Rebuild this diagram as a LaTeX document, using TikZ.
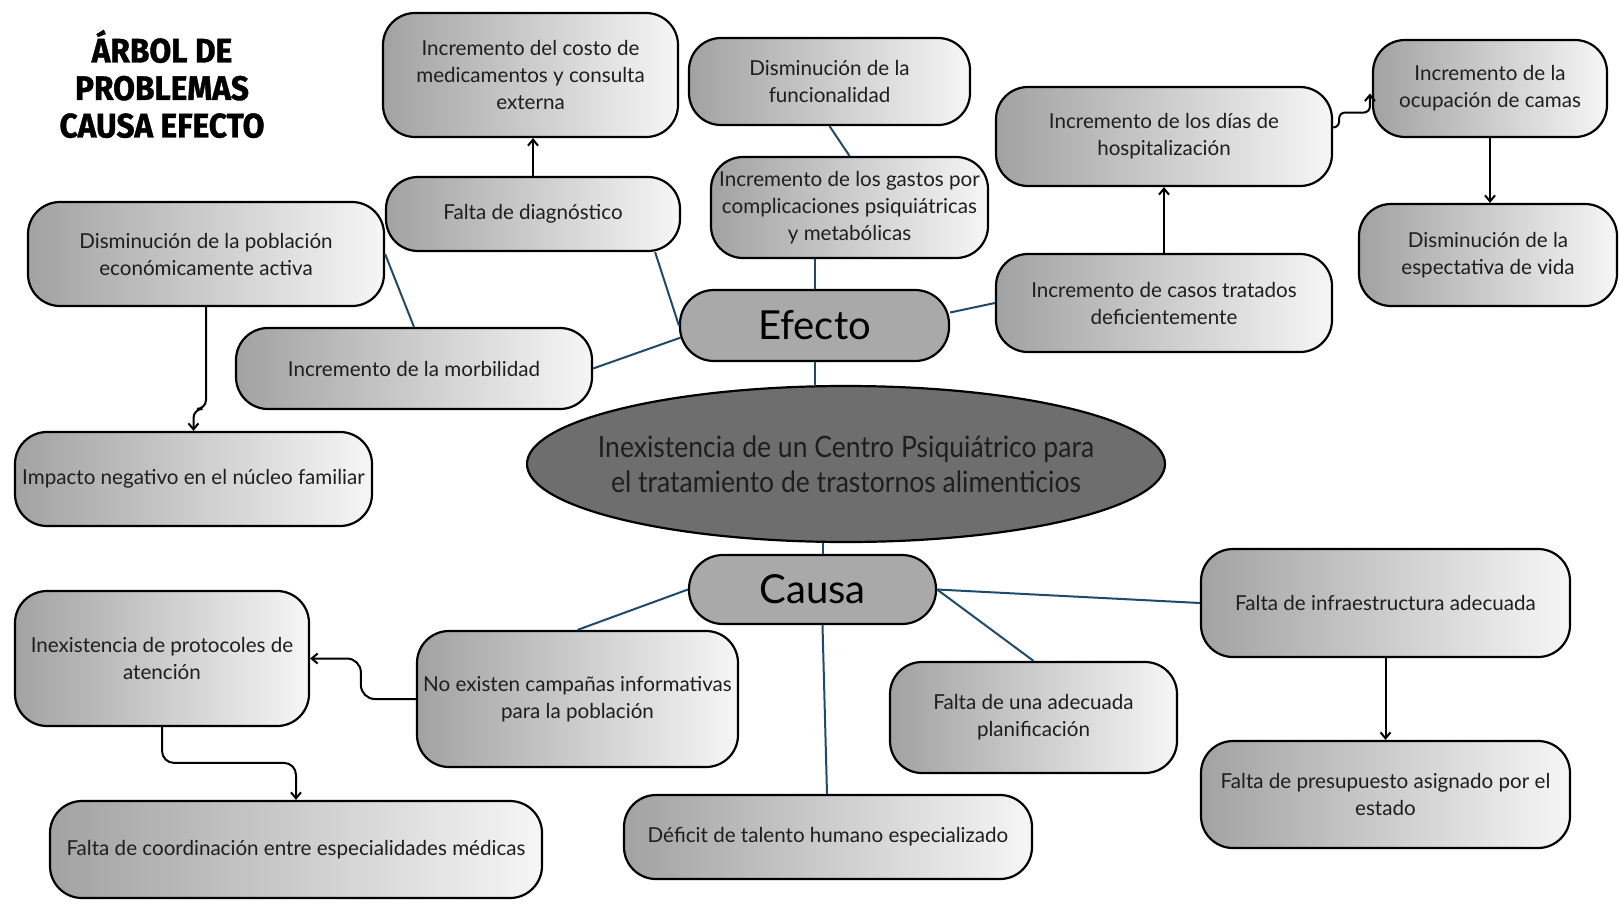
\documentclass[tikz,border=0pt]{standalone}
\usepackage{fontspec}
\setmainfont{Lato}
\newfontfamily\narrowfont[FakeStretch=0.9]{Lato}
\newfontfamily\titlefont[FakeStretch=0.93,FakeBold=1.2]{Fira Sans}
\usetikzlibrary{arrows.meta,calc,shapes.geometric}
\definecolor{linkc}{HTML}{1F4A6B}
\definecolor{gradL}{HTML}{A2A2A2}
\definecolor{gradR}{HTML}{F6F6F6}
\definecolor{txt}{HTML}{1E1E1E}
\definecolor{pillc}{HTML}{A9A9A9}
\definecolor{ellc}{HTML}{6E6E6E}
\begin{document}
\begin{tikzpicture}[x=1pt,y=-1pt,
  box/.style={draw=black, line width=2.2pt, rounded corners=32pt, left color=gradL, right color=gradR,
    align=center, inner sep=0pt, text=txt, font=\fontsize{20.6}{27}\selectfont},
  sz/.style 2 args={minimum width=#1, minimum height=#2},
  pill/.style={draw=black, line width=2.2pt, rounded corners=34pt, fill=pillc, inner sep=0pt,
    text=black, font=\fontsize{40}{42}\selectfont},
  link/.style={draw=linkc, line width=2pt},
  arr/.style={draw=black, line width=2pt, -{Straight Barb[length=6pt,width=10pt]}},
  title/.style={align=center, font=\titlefont\bfseries\fontsize{34}{37.5}\selectfont, text=black}
]
\useasboundingbox (0,0) rectangle (1619,905);
\fill[white] (0,0) rectangle (1619,905);

% title
\node[title] (title) at (162,84) {ÁRBOL DE\\PROBLEMAS\\CAUSA EFECTO};

% effect side
\node[box, sz={295}{124}] (costo) at (530.5,75) {Incremento del costo de\\medicamentos y consulta\\externa};
\node[box, sz={281}{87}] (func) at (829.5,81.5) {Disminución de la\\funcionalidad};
\node[box, sz={294}{74}] (diag) at (533,214) {Falta de diagnóstico};
\node[box, sz={277}{101}] (gastos) at (849.5,207.5) {Incremento de los gastos por\\complicaciones psiquiátricas\\y metabólicas};
\node[box, sz={356}{104}] (pobl) at (206,254) {Disminución de la población\\económicamente activa};
\node[box, sz={356}{81}] (morb) at (414,368.5) {Incremento de la morbilidad};
\node[box, sz={357}{94}] (impacto) at (193.5,479) {Impacto negativo en el núcleo familiar};
\node[pill, sz={269}{71}] (efecto) at (814.5,325.5) {Efecto};
\node[box, sz={336}{99}] (hosp) at (1164,136.5) {Incremento de los días de\\hospitalización};
\node[box, sz={336}{98}] (casos) at (1164,303) {Incremento de casos tratados\\deficientemente};
\node[box, sz={234}{97}] (ocup) at (1490,88.5) {Incremento de la\\ocupación de camas};
\node[box, sz={258}{102}] (espect) at (1488,255) {Disminución de la\\espectativa de vida};

% central problem
\node[ellipse, draw=black, line width=2.2pt, fill=ellc, minimum width=638, minimum height=156, inner sep=0pt] (ell) at (846,464) {};
\node[align=center, text=txt, font=\narrowfont\fontsize{29.5}{35}\selectfont] (elltext) at (ell.center) {Inexistencia de un Centro Psiquiátrico para\\el tratamiento de trastornos alimenticios};

% cause side
\node[pill, sz={247}{69}] (causa) at (812.5,589.5) {Causa};
\node[box, sz={294}{135}] (prot) at (162,658.5) {Inexistencia de protocoles de\\atención};
\node[box, sz={321}{136}] (camp) at (577.5,699) {No existen campañas informativas\\para la población};
\node[box, sz={492}{97}] (coord) at (296,849.5) {Falta de coordinación entre especialidades médicas};
\node[box, sz={408}{84}] (deficit) at (828,837) {Déficit de talento humano especializado};
\node[box, sz={287}{111}] (plan) at (1033.5,717.5) {Falta de una adecuada\\planificación};
\node[box, sz={369}{108}] (infra) at (1385.5,603) {Falta de infraestructura adecuada};
\node[box, sz={369}{107}] (presup) at (1385.5,794.5) {Falta de presupuesto asignado por el\\estado};

% blue links (effect side)
\draw[link] (efecto.north) -- (efecto.north |- gastos.south);
\draw[link] (func.south) -- (gastos.north);
\draw[link] ($(diag.south east)+(-26,0)$) -- (efecto.west);
\draw[link] ($(efecto.west)+(2,12)$) -- (morb.east);
\draw[link] (pobl.east) -- (morb.north);
\draw[link] ($(efecto.east)+(0,-13)$) -- (casos.west);
\draw[link] (efecto.south) -- (efecto.south |- ell.north);

% blue links (cause side)
\coordinate (cTop) at ($(causa.north)+(10,0)$);
\draw[link] (cTop) -- (cTop |- ell.south);
\draw[link] (causa.west) -- (camp.north);
\draw[link] ($(causa.south)+(10,0)$) -- ($(deficit.north)+(-1,0)$);
\draw[link] (causa.east) -- (plan.north);
\draw[link] (causa.east) -- (infra.west);

% black arrows
\draw[arr] (diag.north) -- (diag.north |- costo.south);
\draw[arr, rounded corners=9pt] (pobl.south) |- ($(impacto.north)+(0,-22)$) -- (impacto.north);
\draw[arr] (casos.north) -- (casos.north |- hosp.south);
\draw[arr, rounded corners=6pt] ($(hosp.east)+(0,-9)$) -- ++(6,0) |- ($(ocup.west)+(-2,24)$) -- ($(ocup.west)+(-2,5)$);
\draw[arr] (ocup.south) -- (ocup.south |- espect.north);
\draw[arr, rounded corners=14pt] (camp.west) -- ++(-55,0) |- (prot.east);
\draw[arr, rounded corners=12pt] (prot.south) |- ($(coord.north)+(0,-37)$) -- (coord.north);
\draw[arr] (infra.south) -- (presup.north);
\end{tikzpicture}
\end{document}
